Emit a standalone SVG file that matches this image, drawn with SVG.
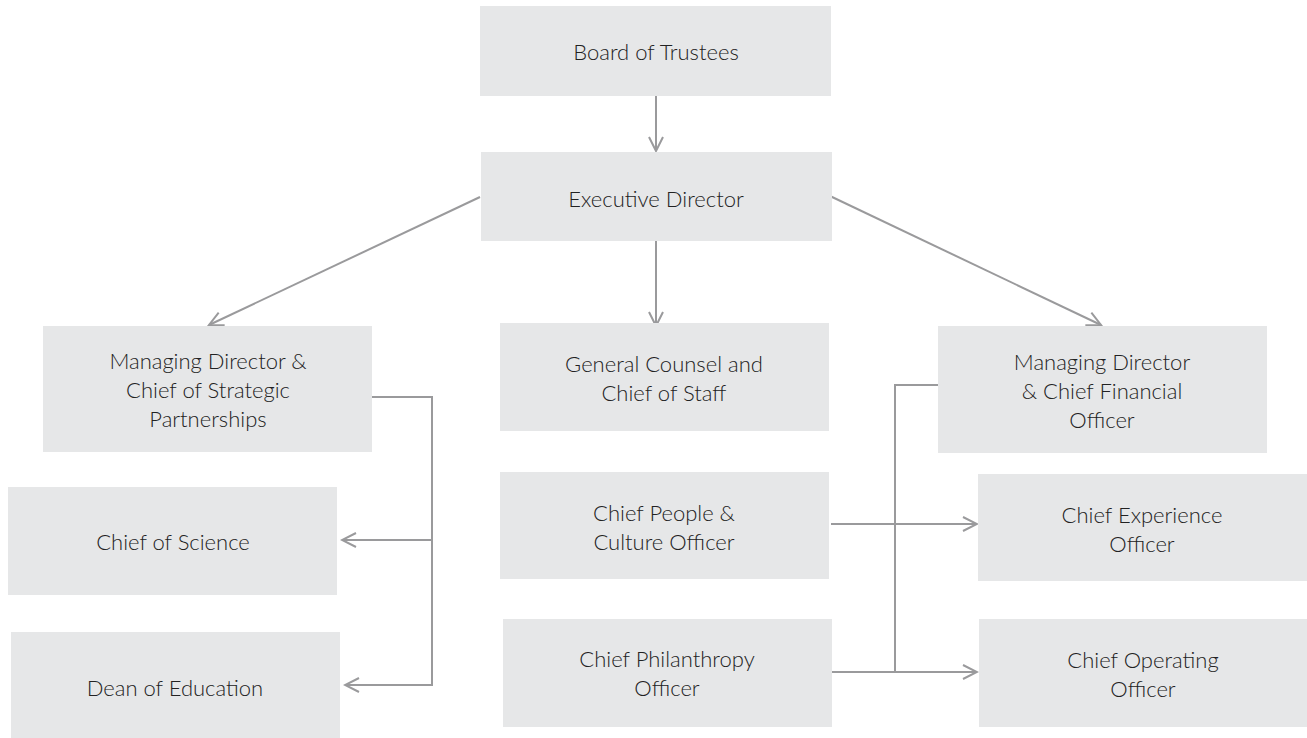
<svg xmlns="http://www.w3.org/2000/svg" width="1307" height="738" viewBox="0 0 1307 738">
<style>
.box{fill:#e6e7e8;}
.lbl{font-family:Lato,"Liberation Sans",sans-serif;font-weight:300;font-size:22px;fill:#222222;text-anchor:middle;}
.con{fill:none;stroke:#9a9a9c;stroke-width:2;}
</style>
<defs>
<marker id="arr" markerUnits="userSpaceOnUse" markerWidth="18" markerHeight="18" viewBox="0 0 18 18" refX="16" refY="9" orient="auto">
<path d="M2,2 L16,9 L2,16" fill="none" stroke="#9a9a9c" stroke-width="2"/>
</marker>
</defs>
<rect width="1307" height="738" fill="#ffffff"/>
<g id="connectors">
<line class="con" x1="656" y1="96" x2="656" y2="151" marker-end="url(#arr)"/>
<line class="con" x1="480" y1="197" x2="209" y2="325" marker-end="url(#arr)"/>
<line class="con" x1="830" y1="196" x2="1101" y2="325" marker-end="url(#arr)"/>
<line class="con" x1="656" y1="241" x2="656" y2="326" marker-end="url(#arr)"/>
<path class="con" d="M372,397 H432 V685 H345" marker-end="url(#arr)"/>
<line class="con" x1="431" y1="540" x2="342" y2="540" marker-end="url(#arr)"/>
<path class="con" d="M938,385 H895 V672"/>
<line class="con" x1="831" y1="524" x2="977" y2="524" marker-end="url(#arr)"/>
<line class="con" x1="832" y1="672" x2="977" y2="672" marker-end="url(#arr)"/>
</g>
<g id="board">
<rect class="box" x="480" y="6" width="351" height="90"/>
<text class="lbl" x="656" y="60">Board of Trustees</text>
</g>
<g id="executive">
<rect class="box" x="481" y="152" width="351" height="89"/>
<text class="lbl" x="656" y="207">Executive Director</text>
</g>
<g id="md-csp">
<rect class="box" x="43" y="326" width="329" height="126"/>
<text class="lbl" x="208" y="369">Managing Director &amp;</text>
<text class="lbl" x="208" y="398">Chief of Strategic</text>
<text class="lbl" x="208" y="427">Partnerships</text>
</g>
<g id="general-counsel">
<rect class="box" x="500" y="323" width="329" height="108"/>
<text class="lbl" x="664" y="372">General Counsel and</text>
<text class="lbl" x="664" y="401">Chief of Staff</text>
</g>
<g id="md-cfo">
<rect class="box" x="938" y="326" width="329" height="127"/>
<text class="lbl" x="1102" y="370">Managing Director</text>
<text class="lbl" x="1102" y="399">&amp; Chief Financial</text>
<text class="lbl" x="1102" y="428">Officer</text>
</g>
<g id="chief-science">
<rect class="box" x="8" y="487" width="329" height="108"/>
<text class="lbl" x="173" y="550">Chief of Science</text>
</g>
<g id="chief-people">
<rect class="box" x="500" y="472" width="329" height="107"/>
<text class="lbl" x="664" y="521">Chief People &amp;</text>
<text class="lbl" x="664" y="550">Culture Officer</text>
</g>
<g id="chief-experience">
<rect class="box" x="978" y="474" width="329" height="107"/>
<text class="lbl" x="1142" y="523">Chief Experience</text>
<text class="lbl" x="1142" y="552">Officer</text>
</g>
<g id="dean-education">
<rect class="box" x="11" y="632" width="329" height="106"/>
<text class="lbl" x="175" y="696">Dean of Education</text>
</g>
<g id="chief-philanthropy">
<rect class="box" x="503" y="619" width="329" height="108"/>
<text class="lbl" x="667" y="667">Chief Philanthropy</text>
<text class="lbl" x="667" y="696">Officer</text>
</g>
<g id="chief-operating">
<rect class="box" x="979" y="619" width="328" height="108"/>
<text class="lbl" x="1143" y="668">Chief Operating</text>
<text class="lbl" x="1143" y="697">Officer</text>
</g>
</svg>
